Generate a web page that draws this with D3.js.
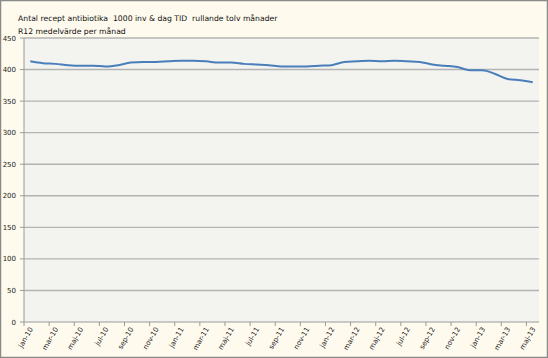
<!DOCTYPE html>
<html>
<head>
<meta charset="utf-8">
<script src="https://cdn.jsdelivr.net/npm/d3@7"></script>
<style>
  body { margin: 0; background: #fff; }
  svg { display: block; font-family: "DejaVu Sans", Verdana, sans-serif; }
</style>
</head>
<body>
<div id="chart"></div>
<script>
var months = ["jan-10","feb-10","mar-10","apr-10","maj-10","jun-10","jul-10","aug-10","sep-10","okt-10","nov-10","dec-10",
  "jan-11","feb-11","mar-11","apr-11","maj-11","jun-11","jul-11","aug-11","sep-11","okt-11","nov-11","dec-11",
  "jan-12","feb-12","mar-12","apr-12","maj-12","jun-12","jul-12","aug-12","sep-12","okt-12","nov-12","dec-12",
  "jan-13","feb-13","mar-13","apr-13","maj-13"];
var values = [413, 410, 409, 407, 406, 406, 405, 407, 411, 412, 412, 413,
  414, 414, 413, 411, 411, 409, 408, 407, 405, 405, 405, 406,
  407, 412, 413, 414, 413, 414, 413, 412, 408, 406, 404, 399,
  399, 393, 385, 383, 380];
var yTicks = [0, 50, 100, 150, 200, 250, 300, 350, 400, 450];
var titleLines = ["Antal recept antibiotika  1000 inv & dag TID  rullande tolv månader", "R12 medelvärde per månad"];

function drawChart() {
    var width = 548, height = 358;
    var pLeft = 24, pRight = 539, pTop = 38, pBottom = 322;

    var svg = d3.select("#chart").append("svg")
        .attr("width", width)
        .attr("height", height);

    // outer frame
    svg.append("rect")
        .attr("x", 0.5).attr("y", 0.5)
        .attr("width", width - 1).attr("height", height - 1)
        .style("fill", "#fefaee")
        .style("stroke", "#8a8a8a")
        .style("stroke-width", 1.5);

    // plot area
    svg.append("rect")
        .attr("x", pLeft).attr("y", pTop)
        .attr("width", pRight - pLeft).attr("height", pBottom - pTop)
        .style("fill", "#f3f4f0");

    var x = d3.scaleBand().domain(months).range([pLeft, pRight]).padding(0);
    var y = d3.scaleLinear().domain([0, 450]).range([pBottom, pTop]);

    // gridlines
    svg.append("g").selectAll("line")
        .data(yTicks.filter(function (d) { return d > 0; }))
        .enter().append("line")
        .attr("x1", pLeft).attr("x2", pRight)
        .attr("y1", function (d) { return y(d); })
        .attr("y2", function (d) { return y(d); })
        .style("stroke", "#b3b3b3")
        .style("stroke-width", 1.4);

    // y axis
    svg.append("line")
        .attr("x1", pLeft).attr("x2", pLeft)
        .attr("y1", pTop).attr("y2", pBottom)
        .style("stroke", "#9a9a9a");
    var yt = svg.append("g").selectAll("g").data(yTicks).enter().append("g");
    yt.append("line")
        .attr("x1", pLeft - 4).attr("x2", pLeft)
        .attr("y1", function (d) { return y(d); })
        .attr("y2", function (d) { return y(d); })
        .style("stroke", "#9a9a9a");
    yt.append("text")
        .attr("x", 16)
        .attr("y", function (d) { return y(d) + 2.5; })
        .attr("text-anchor", "end")
        .style("font-size", "7px")
        .style("fill", "#222")
        .text(function (d) { return d; });

    // x axis
    svg.append("line")
        .attr("x1", pLeft).attr("x2", pRight)
        .attr("y1", pBottom).attr("y2", pBottom)
        .style("stroke", "#9a9a9a");
    var labelled = months.filter(function (d, i) { return i % 2 === 0; });
    svg.append("g").selectAll("line")
        .data(labelled)
        .enter().append("line")
        .attr("x1", function (d) { return x(d); })
        .attr("x2", function (d) { return x(d); })
        .attr("y1", pBottom).attr("y2", pBottom + 4)
        .style("stroke", "#9a9a9a");
    svg.append("g").selectAll("text")
        .data(labelled)
        .enter().append("text")
        .attr("transform", function (d) {
            return "translate(" + (x(d) + x.bandwidth() / 2 + 3) + "," + (pBottom + 7) + ") rotate(-60)";
        })
        .attr("text-anchor", "end")
        .style("font-size", "7px")
        .style("fill", "#222")
        .text(function (d) { return d; });

    // series line
    var line = d3.line()
        .x(function (d, i) { return x(months[i]) + x.bandwidth() / 2; })
        .y(function (d) { return y(d); })
        .curve(d3.curveMonotoneX);
    svg.append("path")
        .datum(values)
        .attr("d", line)
        .style("fill", "none")
        .style("stroke", "#4a7ebb")
        .style("stroke-width", 2);

    // title
    svg.append("g").selectAll("text")
        .data(titleLines)
        .enter().append("text")
        .attr("x", 18)
        .attr("y", function (d, i) { return 21 + i * 13; })
        .style("font-size", "7.7px")
        .style("white-space", "pre")
        .style("fill", "#111")
        .text(function (d) { return d; });
}

drawChart();
</script>
</body>
</html>
